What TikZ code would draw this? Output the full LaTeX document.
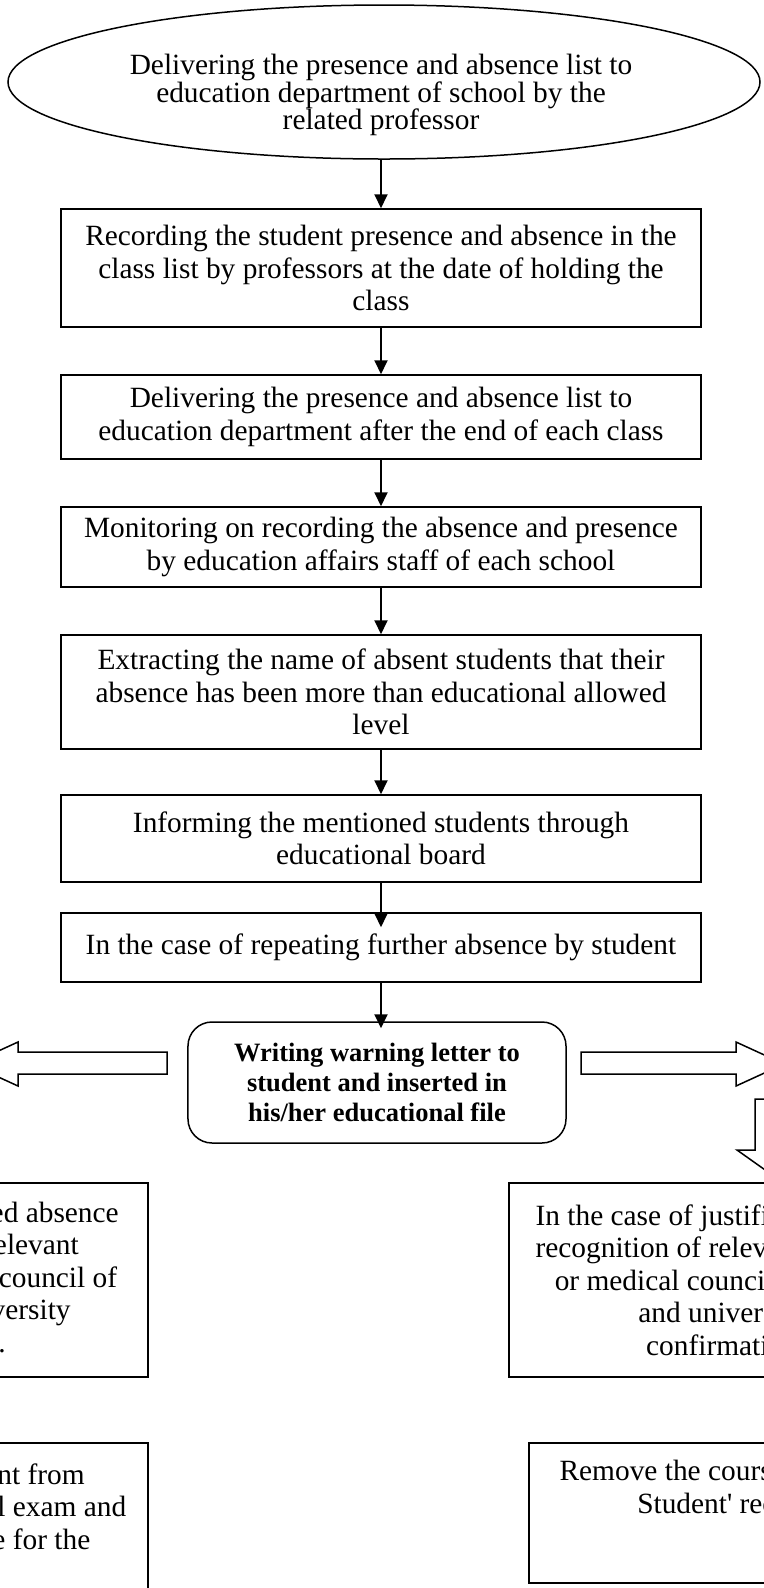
\documentclass[tikz,border=0pt]{standalone}
\usepackage{fontspec}
\setmainfont{Liberation Serif}
\usetikzlibrary{arrows.meta,shapes.geometric}

\begin{document}
\begin{tikzpicture}[x=0.4pt,y=-0.4pt,line join=miter,
    flowbox/.style={draw,line width=0.6pt,rectangle,inner sep=0pt,align=center,minimum width=256pt,font=\fontsize{11.75}{13}\selectfont},
    sidebox/.style={flowbox,minimum height=77.6pt},
    resultbox/.style={flowbox,minimum width=157.6pt},
    warnbox/.style={draw,line width=0.6pt,rounded corners=9.6pt,inner sep=0pt,align=center,minimum width=151.2pt,minimum height=48.4pt,font=\fontsize{10.6}{12}\selectfont\bfseries},
    startoval/.style={draw,line width=0.6pt,ellipse,inner sep=0pt,minimum width=300.8pt,minimum height=61.6pt},
    ovaltext/.style={inner sep=0pt,align=center,font=\fontsize{11.75}{11}\selectfont},
    flowarrow/.style={line width=0.75pt,-{Triangle[length=5.6pt,width=5.2pt]}},
    hollowarrow/.style={draw,line width=0.6pt,fill=white}]
    \useasboundingbox (0,0) rectangle (764,1588);

    % main column
    \node[startoval] (start) at (384,82) {};
    \node[ovaltext] (starttext) at (381,95) {Delivering the presence and absence list to\\education department of school by the\\related professor};
    \node[flowbox,minimum height=47.2pt] (record) at (381,268) {Recording the student presence and absence in the\\class list by professors at the date of holding the\\class};
    \node[flowbox,minimum height=33.6pt] (deliver) at (381,417) {Delivering the presence and absence list to\\education department after the end of each class};
    \node[flowbox,minimum height=32pt] (monitor) at (381,547) {Monitoring on recording the absence and presence\\by education affairs staff of each school};
    \node[flowbox,minimum height=45.6pt] (extract) at (381,692) {Extracting the name of absent students that their\\absence has been more than educational allowed\\level};
    \node[flowbox,minimum height=34.8pt] (inform) at (381,838.5) {Informing the mentioned students through\\educational board};
    \node[flowbox,minimum height=27.6pt] (repeat) at (381,947.5) {In the case of repeating further absence by student};
    \node[warnbox] (warn) at (377,1082.5) {Writing warning letter to\\student and inserted in\\his/her educational file};

    % side branches
    \node[sidebox,minimum width=162.4pt] (unjust) at (-55,1280) {In case of unjustified absence\\recognition of relevant\\council or medical council of\\school and university\\approvals.};
    \node[sidebox,minimum width=170.4pt] (just) at (722,1280) {In the case of justified absences\\recognition of relevant councils\\or medical council of school\\and university\\confirmation};
    \node[resultbox,minimum width=151.2pt,minimum height=64pt] (deprive) at (-41,1523) {Deprive student from\\attending the final exam and\\give zero score for the\\course};
    \node[resultbox,minimum height=56pt] (remove) at (726,1513) {Remove the course from the\\Student\textquotesingle{} record\\[8pt]~};

    % connectors
    \draw[flowarrow] (record.north |- start.south) -- (record.north);
    \draw[flowarrow] (record.south) -- (deliver.north);
    \draw[flowarrow] (deliver.south) -- (monitor.north);
    \draw[flowarrow] (monitor.south) -- (extract.north);
    \draw[flowarrow] (extract.south) -- (inform.north);
    \draw[flowarrow,shorten >=-6pt] (inform.south) -- (repeat.north);
    \draw[flowarrow,shorten >=-2.8pt] (repeat.south) -- (repeat.south |- warn.north);

    % block arrows
    \draw[hollowarrow] (167,1052) -- (18,1052) -- (18,1042) -- (-30,1064) -- (18,1086) -- (18,1074) -- (167,1074) -- cycle;
    \draw[hollowarrow] (581,1052) -- (736,1052) -- (736,1042) -- (784,1064) -- (736,1086) -- (736,1074) -- (581,1074) -- cycle;
    \draw[hollowarrow] (755,1099) -- (781,1099) -- (781,1150) -- (799,1150) -- (768,1172) -- (737,1150) -- (755,1150) -- cycle;
\end{tikzpicture}
\end{document}
